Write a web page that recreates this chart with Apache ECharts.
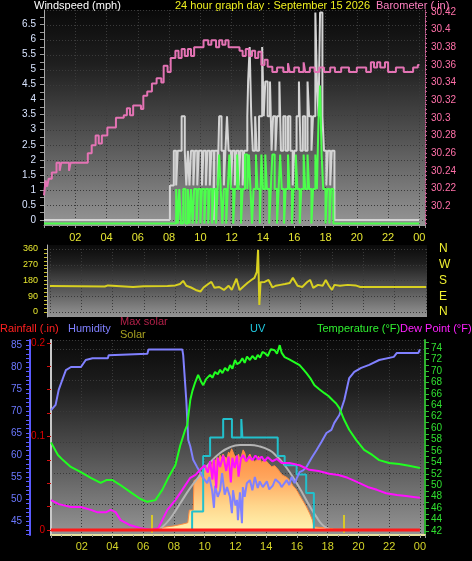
<!DOCTYPE html>
<html><head><meta charset="utf-8">
<script src="https://cdn.jsdelivr.net/npm/echarts@6/dist/echarts.min.js"></script>
<style>html,body{margin:0;padding:0;background:#000;}#c{width:472px;height:561px;}</style>
</head><body><div id="c"></div>
<script>
// ---------- DATA (hour of day, value) ----------
const windGust = [[0,0],[8.05,1.15],[8.3,2.3],[8.45,1.15],[8.55,2.3],[8.8,3.45],[9.0,2.3],[9.1,1.15],[9.2,2.3],[9.3,1.15],[9.4,2.3],[9.55,1.15],[9.65,2.3],[9.8,1.15],[9.9,2.3],[10.1,1.15],[10.2,2.3],[10.35,1.15],[10.45,2.3],[10.6,1.15],[10.7,2.3],[10.85,0],[10.9,2.3],[11.1,1.15],[11.2,3.45],[11.35,2.3],[11.5,1.15],[11.6,2.3],[11.7,3.45],[11.8,2.3],[11.95,1.15],[12.05,2.3],[12.2,1.15],[12.3,2.3],[12.45,1.15],[12.55,2.3],[12.7,1.15],[12.8,2.3],[13.0,3.45],[13.05,4.6],[13.15,5.75],[13.25,3.45],[13.35,2.3],[13.5,3.45],[13.6,2.3],[13.75,3.45],[13.95,5.75],[14.05,3.45],[14.15,4.6],[14.3,3.45],[14.45,4.6],[14.55,2.3],[14.65,3.45],[14.8,2.3],[14.9,3.45],[15.05,4.6],[15.15,2.3],[15.3,3.45],[15.45,2.3],[15.6,3.45],[15.75,2.3],[15.9,1.15],[16.0,2.3],[16.15,3.45],[16.3,4.6],[16.4,2.3],[16.55,3.45],[16.7,2.3],[16.85,4.6],[16.95,3.45],[17.1,2.3],[17.2,3.45],[17.35,6.9],[17.45,4.6],[17.55,3.45],[17.65,6.9],[17.8,3.45],[17.9,2.3],[18.05,1.15],[18.15,2.3],[18.3,1.15],[18.4,2.3],[18.57,0],[24,0]];
const windAvg = [[0,0],[8.45,1.15],[8.55,0],[8.65,1.15],[8.75,0],[8.9,1.15],[9.05,0],[9.2,1.15],[9.3,0],[9.4,1.15],[9.5,0],[9.6,1.15],[9.75,0],[9.85,1.15],[10.0,0],[10.1,1.15],[10.25,0],[10.35,1.15],[10.5,0],[10.6,1.15],[10.75,0],[10.85,1.15],[11.0,0],[11.1,1.15],[11.2,2.3],[11.3,1.15],[11.4,0],[11.5,1.15],[11.65,0],[11.75,1.15],[11.85,2.3],[11.95,1.15],[12.1,0],[12.2,1.15],[12.35,2.3],[12.45,1.15],[12.6,0],[12.7,1.15],[12.85,2.3],[13.0,1.15],[13.1,2.3],[13.2,1.15],[13.3,0],[13.4,1.15],[13.55,2.3],[13.65,1.15],[13.8,0],[13.9,2.3],[14.0,1.15],[14.15,2.3],[14.25,1.15],[14.4,0],[14.5,1.15],[14.6,2.3],[14.75,1.15],[14.9,0],[15.0,1.15],[15.1,2.3],[15.2,1.15],[15.35,0],[15.45,1.15],[15.6,2.3],[15.7,1.15],[15.85,0],[15.95,1.15],[16.1,2.3],[16.2,1.15],[16.35,0],[16.45,1.15],[16.6,2.3],[16.7,1.15],[16.85,2.3],[16.95,1.15],[17.1,0],[17.2,1.15],[17.35,2.3],[17.45,1.15],[17.55,3.45],[17.65,4.6],[17.75,2.3],[17.85,1.15],[18.0,0],[18.1,1.15],[18.25,0],[18.35,1.15],[18.5,0],[24,0]];
const barometer = [[0,30.212],[0.1,30.229],[0.2,30.222],[0.3,30.231],[0.5,30.238],[0.8,30.249],[1.0,30.24],[1.1,30.249],[1.6,30.24],[1.7,30.249],[2.8,30.26],[3.05,30.269],[3.3,30.28],[3.5,30.271],[3.7,30.28],[4.05,30.289],[4.6,30.3],[5.1,30.303],[5.3,30.311],[5.5,30.303],[5.7,30.314],[6.2,30.31],[6.35,30.325],[6.6,30.33],[6.9,30.339],[7.2,30.345],[7.5,30.34],[7.65,30.359],[7.9,30.352],[8.1,30.368],[8.4,30.376],[8.6,30.368],[8.8,30.378],[9.0,30.37],[9.2,30.378],[9.4,30.37],[9.6,30.38],[10.2,30.388],[10.5,30.383],[10.7,30.388],[11.0,30.38],[11.2,30.388],[11.4,30.383],[11.6,30.388],[11.8,30.38],[12.5,30.376],[12.7,30.37],[12.9,30.378],[13.1,30.37],[13.3,30.376],[13.5,30.368],[13.7,30.375],[13.9,30.36],[14.1,30.366],[14.3,30.358],[14.6,30.352],[14.9,30.357],[15.3,30.352],[15.6,30.362],[15.7,30.352],[16.0,30.357],[16.3,30.352],[16.6,30.363],[16.7,30.352],[17.0,30.357],[17.3,30.352],[17.6,30.357],[17.9,30.352],[18.3,30.357],[18.6,30.352],[19.0,30.357],[19.5,30.352],[20.0,30.357],[20.6,30.352],[20.9,30.363],[21.1,30.357],[21.3,30.363],[21.5,30.357],[21.8,30.363],[22.0,30.352],[22.5,30.357],[23.0,30.352],[23.6,30.357],[23.9,30.36],[24,30.36]];
const windDir = [[0,149],[3.5,146],[3.7,152],[5.3,143],[6.0,147],[7.5,149],[8.0,152],[8.3,160],[8.5,178],[8.7,150],[9.0,140],[9.3,126],[9.6,117],[9.8,140],[10.1,160],[10.3,172],[10.5,138],[10.8,143],[11.1,126],[11.4,150],[11.6,126],[11.9,190],[12.1,126],[12.4,150],[12.6,166],[12.85,183],[13.05,195],[13.2,229],[13.28,355],[13.36,40],[13.44,170],[13.7,172],[13.95,183],[14.2,140],[14.4,150],[14.7,155],[15.0,160],[15.3,166],[15.5,195],[15.8,150],[16.1,143],[16.4,170],[16.6,183],[16.8,138],[17.1,155],[17.4,150],[17.6,183],[17.8,150],[18.0,126],[18.15,155],[18.5,150],[19.0,155],[19.5,152],[19.8,143],[24,143]];
const humidity = [[0,70.2],[0.3,71.4],[0.5,74.8],[0.78,77.5],[0.97,79.3],[1.3,80],[1.95,80],[2.26,81.6],[2.7,82],[3.7,82],[3.75,82.7],[6.27,83],[6.34,84],[8.54,84],[8.6,82.7],[8.8,72.5],[8.93,63.4],[9.06,62],[9.25,58.9],[9.5,57.3],[9.7,56.1],[9.9,54.8],[10.16,53.6],[10.3,55],[10.48,52],[10.6,48],[10.67,53],[10.85,50.5],[11.0,52],[11.13,55.9],[11.3,51],[11.45,52.7],[11.64,50.5],[11.77,46.8],[11.84,52],[12.0,48.5],[12.1,49.8],[12.16,45.2],[12.29,51.5],[12.42,44.5],[12.48,52.7],[12.6,50.5],[12.74,53.6],[12.94,54.3],[13.1,52],[13.26,55],[13.45,52.5],[13.58,54],[13.78,52.7],[14.04,54],[14.2,52.2],[14.42,53],[14.6,54.5],[14.88,53.6],[15.0,52.7],[15.33,54.3],[15.5,53.2],[15.65,55],[15.85,53.6],[16.17,56.1],[16.4,56.5],[16.62,57.3],[16.95,59.3],[17.27,61.1],[17.6,63],[17.92,65],[18.24,65.7],[18.43,67.3],[18.76,69.1],[19.08,72.5],[19.4,77.5],[19.73,78.9],[20.18,79.8],[20.7,80.5],[21.35,81.6],[22.3,82.3],[22.5,83.2],[23.9,83.2],[24,84]];
const temperature = [[0,57.5],[0.45,55.3],[0.78,54.4],[1.29,53.2],[1.94,52.3],[2.59,51.3],[3.23,50.4],[3.6,50.9],[4.0,50.9],[4.53,50.0],[5.17,48.8],[5.82,47.6],[6.27,47.1],[6.79,47.4],[7.24,49.2],[7.63,51.3],[8.09,53.5],[8.41,57.0],[8.73,59.7],[8.86,60.5],[9.06,64.9],[9.2,66.5],[9.38,68.0],[9.57,69.3],[9.75,68.2],[9.9,67.5],[10.1,68.6],[10.35,69.3],[10.5,68.8],[10.67,69.8],[10.85,69.4],[11.0,70.2],[11.15,69.6],[11.32,70.5],[11.5,70.0],[11.65,71.0],[11.8,70.4],[11.97,71.9],[12.1,71.2],[12.29,71.5],[12.45,72.2],[12.6,71.4],[12.75,72.5],[12.94,71.9],[13.1,72.6],[13.3,72.0],[13.45,72.8],[13.6,72.3],[13.75,73.3],[13.91,73.1],[14.1,72.6],[14.3,73.8],[14.55,73.6],[14.7,73.0],[14.88,74.5],[15.0,73.2],[15.2,72.4],[15.5,72.0],[15.85,71.5],[16.17,71.0],[16.4,70.3],[16.62,69.6],[16.9,68.6],[17.14,67.5],[17.45,66.8],[17.79,66.1],[18.05,65.6],[18.31,64.9],[18.55,64.3],[18.76,63.5],[19.08,61.4],[19.4,59.7],[19.86,57.9],[20.37,56.2],[20.9,55.3],[21.35,54.4],[22.0,53.9],[22.64,53.7],[23.29,53.4],[24.0,53.0]];
const dewPoint = [[0,47.4],[0.5,46.7],[1.3,46.2],[1.94,46.2],[2.59,45.7],[3.0,45.3],[3.6,45.3],[3.88,45.7],[4.2,45.3],[4.53,43.9],[5.17,43],[5.82,42.5],[6.47,42.2],[6.98,42.5],[7.24,43.9],[7.57,45.7],[8.09,47.4],[8.54,49.2],[9.06,51.3],[9.4,51.8],[9.7,52.7],[10.0,53.5],[10.2,52.2],[10.35,54.2],[10.5,51],[10.6,54.5],[10.75,49.5],[10.85,54.8],[11.0,53.2],[11.2,55.2],[11.4,52.5],[11.55,55],[11.7,50.5],[11.8,54.8],[11.95,53],[12.1,55.2],[12.2,51.5],[12.35,54.6],[12.5,55.3],[12.7,54.2],[12.9,55],[13.1,54.4],[13.3,55.2],[13.5,54.5],[13.7,55],[13.9,54.2],[14.1,54.9],[14.4,54.2],[14.7,54.6],[15.0,53.9],[15.5,53.9],[16.17,53.5],[16.8,52.7],[17.4,52.5],[18.1,52],[18.7,51.8],[19.3,51.3],[19.9,50.6],[20.6,49.7],[21.2,49.2],[21.8,48.6],[22.5,48.3],[23.1,48.1],[23.7,47.9],[24,47.8]];
const solar = [[0,0],[6.9,0],[7.0,20],[7.5,30],[8.0,40],[8.5,55],[8.9,70],[9.0,190],[9.25,190],[9.3,470],[9.5,480],[9.7,540],[9.8,500],[9.9,600],[10.05,570],[10.16,615],[10.25,590],[10.35,645],[10.45,610],[10.54,665],[10.65,640],[10.8,690],[10.9,660],[11.0,710],[11.1,680],[11.19,720],[11.3,690],[11.45,680],[11.55,740],[11.64,720],[11.75,770],[11.84,740],[11.95,700],[12.1,690],[12.2,720],[12.29,665],[12.4,710],[12.5,760],[12.61,730],[12.74,640],[12.85,700],[12.94,720],[13.05,680],[13.13,690],[13.25,650],[13.39,665],[13.5,700],[13.58,680],[13.7,640],[13.78,635],[13.9,670],[14.04,650],[14.15,630],[14.23,615],[14.35,600],[14.42,585],[14.55,610],[14.68,600],[14.8,570],[14.88,550],[15.07,520],[15.2,530],[15.33,500],[15.52,475],[15.72,425],[15.98,380],[16.17,330],[16.36,285],[16.62,220],[16.82,160],[17.01,95],[17.1,30],[17.5,25],[18.0,20],[18.4,10],[18.5,0],[24,0]];
const maxSolar = [[6.92,0],[7.1,10],[7.76,110],[8.41,255],[9.06,400],[9.7,520],[10.35,640],[11.0,730],[11.64,785],[12.29,805],[12.94,805],[13.5,795],[14.23,755],[14.68,700],[15.07,640],[15.52,550],[15.98,445],[16.36,350],[16.82,230],[17.27,125],[17.66,50],[18.1,8],[18.2,0]];
const uvIndex = [[0,0],[9.18,1],[9.9,4],[10.35,5],[11.2,6],[11.77,5],[12.38,6],[12.45,5],[14.75,4],[15.2,3.5],[15.98,3],[16.6,2],[17.1,0],[24,0]];
const rainfall = [[0,0],[24,0]];
const sunEvents = [6.55, 19.04];

// tick labels
const windLabels = [0,0.5,1,1.5,2,2.5,3,3.5,4,4.5,5,5.5,6,6.5];
const baroLabels = [30.2,30.22,30.24,30.26,30.28,30.3,30.32,30.34,30.36,30.38,30.4,30.42];
const dirLabels = [0,90,180,270,360];
const compass = {0:'N',90:'E',180:'S',270:'W',360:'N'};
const rainLabels = [0,0.1,0.2];
const humLabels = [45,50,55,60,65,70,75,80,85];
const tempLabels = [42,44,46,48,50,52,54,56,58,60,62,64,66,68,70,72,74];

function range(a,b,s){const r=[];for(let v=a;v<=b+1e-9;v+=s)r.push(+v.toFixed(4));return r;}
const FONT='Liberation Sans, Arial, sans-serif';
function panelBg(){return {type:'linear',x:0,y:0,x2:0,y2:1,colorStops:[{offset:0,color:'#0a0a0a'},{offset:0.25,color:'#1f1f1f'},{offset:0.6,color:'#545454'},{offset:1,color:'#959595'}]};}
function hourFmt(v){const r=Math.round(v);if(v<=0||Math.abs(v-r)>1e-6||r%2)return '';return String(r%24).padStart(2,'0');}
const dotted={color:'#3a3a3a',type:[1,2],width:1};
function hiddenY(grid,min,max,pos){return {type:'value',gridIndex:grid,min:min,max:max,position:pos||'left',show:false,axisLine:{onZero:false}};}

const option={
  backgroundColor:'#000',
  animation:false,
  textStyle:{fontFamily:FONT},
  grid:[
    {left:44,top:10,width:381,height:215,show:true,backgroundColor:panelBg(),borderWidth:0},
    {left:44,top:10,width:381,height:210,show:false},
    {left:47,top:245,width:380,height:72,show:true,backgroundColor:panelBg(),borderWidth:0},
    {left:50,top:249,width:376,height:63,show:false},
    {left:51,top:340,width:374,height:195,show:true,backgroundColor:panelBg(),borderWidth:0}
  ],
  xAxis:[
    {type:'value',gridIndex:0,min:0,max:24.36,interval:2,
     axisLine:{onZero:false,lineStyle:{color:'#9a9a9a'}},
     axisTick:{length:3,lineStyle:{color:'#9a9a9a'}},
     minorTick:{show:true,splitNumber:4,length:2,lineStyle:{color:'#8a8a8a'}},
     axisLabel:{formatter:hourFmt,color:'#e6e632',fontSize:11,margin:7,fontFamily:FONT},
     splitLine:{show:true,lineStyle:dotted}},
    {type:'value',gridIndex:1,min:0,max:24.36,show:false,axisLine:{onZero:false}},
    {type:'value',gridIndex:2,min:-0.19,max:24.06,show:false,axisLine:{onZero:false}},
    {type:'value',gridIndex:3,min:0,max:24,interval:2,axisLine:{show:false,onZero:false},axisTick:{show:false},axisLabel:{show:false},splitLine:{show:true,lineStyle:dotted}},
    {type:'value',gridIndex:4,min:0,max:24.33,interval:2,
     axisLine:{onZero:false,lineStyle:{color:'#e8e0a0',width:2}},
     axisTick:{length:3,lineStyle:{color:'#9a9a9a'}},
     minorTick:{show:true,splitNumber:3,length:2,lineStyle:{color:'#8a8a8a'}},
     axisLabel:{formatter:hourFmt,color:'#d4d428',fontSize:11,margin:6,fontFamily:FONT},
     splitLine:{show:true,lineStyle:dotted}}
  ],
  yAxis:[
    // 0 wind speed
    {type:'value',gridIndex:0,position:'left',min:-0.166,max:6.98,
     axisLine:{show:true,onZero:false,lineStyle:{color:'#a8a8a8'}},
     axisTick:{show:true,customValues:range(0,6.75,0.25),length:4,lineStyle:{color:'#9a9a9a'}},
     axisLabel:{customValues:windLabels,formatter:v=>String(+(+v).toFixed(2)),color:'#d8e4ff',fontSize:10,margin:8,fontFamily:FONT},
     splitLine:{show:false}},
    // 1 barometer
    {type:'value',gridIndex:0,position:'right',min:30.1785,max:30.4223,
     axisLine:{show:true,onZero:false,lineStyle:{color:'#c86596',type:'dotted'}},
     axisTick:{show:true,customValues:range(30.18,30.42,0.005),length:2,lineStyle:{color:'#c06090'}},
     axisLabel:{customValues:baroLabels,formatter:v=>(+v).toFixed(2).replace(/0$/,''),color:'#ff70a8',fontSize:10,margin:6,fontFamily:FONT},
     splitLine:{show:false}},
    // 2 wind avg (hidden)
    hiddenY(0,-0.047,7.12,'left'),
    // 3 top grid lines
    {type:'value',gridIndex:1,position:'left',min:0,max:7,interval:0.5,axisLine:{show:false,onZero:false},axisTick:{show:false},axisLabel:{show:false},splitLine:{show:true,lineStyle:dotted}},
    // 4 wind direction
    {type:'value',gridIndex:2,position:'left',min:-28.57,max:382.86,
     axisLine:{show:true,onZero:false,lineStyle:{color:'#b0b0b0'}},
     axisTick:{show:true,customValues:range(0,360,22.5),length:3,lineStyle:{color:'#c8c030'}},
     axisLabel:{customValues:dirLabels,formatter:v=>String(Math.round(v)),color:'#e8e830',fontSize:9,margin:9,fontFamily:FONT},
     splitLine:{show:false}},
    // 5 compass letters
    {type:'value',gridIndex:2,position:'right',min:-28.57,max:382.86,
     axisLine:{show:false,onZero:false},axisTick:{show:false},
     axisLabel:{customValues:dirLabels,formatter:v=>compass[Math.round(v)],color:'#f0f030',fontSize:12,margin:12,fontFamily:FONT},
     splitLine:{show:false}},
    // 6 direction grid lines
    {type:'value',gridIndex:3,position:'left',min:0,max:360,interval:90,axisLine:{show:false,onZero:false},axisTick:{show:false},axisLabel:{show:false},splitLine:{show:true,lineStyle:dotted}},
    // 7 rainfall
    {type:'value',gridIndex:4,position:'left',min:-0.00535,max:0.2032,
     axisLine:{show:true,onZero:false,lineStyle:{color:'#c8c8c8',width:2}},
     axisTick:{show:true,customValues:range(0,0.2,0.025),length:4,lineStyle:{color:'#d01010'}},
     axisLabel:{customValues:rainLabels,formatter:v=>(+v)===0?'0':(+v).toFixed(1),color:'#e00000',fontSize:10,margin:6,fontFamily:FONT},
     splitLine:{show:false}},
    // 8 humidity
    {type:'value',gridIndex:4,position:'left',offset:21,min:41.82,max:86.14,
     axisLine:{show:true,onZero:false,lineStyle:{color:'#5a5aff',width:2}},
     axisTick:{show:true,customValues:range(42,86,1),length:4,lineStyle:{color:'#5a5aff'}},
     axisLabel:{customValues:humLabels,formatter:v=>String(Math.round(v)),color:'#6c78ff',fontSize:10,margin:8,fontFamily:FONT},
     splitLine:{show:false}},
    // 9 temperature / dew point
    {type:'value',gridIndex:4,position:'right',min:41.3,max:75.4,
     axisLine:{show:true,onZero:false,lineStyle:{color:'#30b030',width:2}},
     axisTick:{show:true,customValues:range(42,75,1),length:4,lineStyle:{color:'#30c030'}},
     axisLabel:{customValues:tempLabels,formatter:v=>String(Math.round(v)),color:'#30e030',fontSize:10,margin:6,fontFamily:FONT},
     splitLine:{show:false}},
    // 10 solar (hidden)
    hiddenY(4,-46.15,1800,'left'),
    // 11 uv (hidden)
    hiddenY(4,-0.27,10.27,'left'),
    // 12 bottom grid lines
    {type:'value',gridIndex:4,position:'left',min:0,max:6.29,interval:1,axisLine:{show:false,onZero:false},axisTick:{show:false},axisLabel:{show:false},splitLine:{show:true,lineStyle:dotted}}
  ],
  graphic:[
    {type:'text',left:34,top:0,style:{text:'Windspeed (mph)',fill:'#ffffff',font:'11px '+FONT}},
    {type:'text',left:175,top:0,style:{text:'24 hour graph day : September 15 2026',fill:'#f0f020',font:'11px '+FONT}},
    {type:'text',left:376,top:0,style:{text:'Barometer (.in)',fill:'#ff80c0',font:'11px '+FONT}},
    {type:'text',left:0,top:323,style:{text:'Rainfall (.in)',fill:'#ff2020',font:'11px '+FONT}},
    {type:'text',left:68,top:323,style:{text:'Humidity',fill:'#8080ff',font:'11px '+FONT}},
    {type:'text',left:120,top:316,style:{text:'Max solar',fill:'#b02048',font:'11px '+FONT}},
    {type:'text',left:120,top:329,style:{text:'Solar',fill:'#a8a020',font:'11px '+FONT}},
    {type:'text',left:250,top:323,style:{text:'UV',fill:'#20c8e0',font:'11px '+FONT}},
    {type:'text',left:317,top:323,style:{text:'Temperature (°F)',fill:'#30f030',font:'11px '+FONT}},
    {type:'text',left:400,top:323,style:{text:'Dew Point (°F)',fill:'#ff20ff',font:'11px '+FONT}}
  ],
  series:[
    {name:'Gust',type:'line',xAxisIndex:0,yAxisIndex:0,data:windGust,step:'end',showSymbol:false,lineStyle:{color:'#d4d4d4',width:2},z:2},
    {name:'Average',type:'line',xAxisIndex:0,yAxisIndex:2,data:windAvg,step:'end',showSymbol:false,clip:false,lineStyle:{color:'#4cff4c',width:2},z:3},
    {name:'Barometer',type:'line',xAxisIndex:0,yAxisIndex:1,data:barometer,step:'end',showSymbol:false,lineStyle:{color:'#e473b4',width:2},z:4},
    {name:'Direction',type:'line',xAxisIndex:2,yAxisIndex:4,data:windDir,showSymbol:false,lineStyle:{color:'#d8d020',width:2},z:3},
    {name:'Solar',type:'line',xAxisIndex:4,yAxisIndex:10,data:solar,showSymbol:false,lineStyle:{color:'#ff8c40',width:1},
     areaStyle:{opacity:1,color:{type:'linear',x:0,y:0,x2:0,y2:1,colorStops:[{offset:0,color:'#ff8a3c'},{offset:0.35,color:'#ffa55c'},{offset:0.7,color:'#ffd68c'},{offset:1,color:'#fff3b0'}]}},z:2},
    {name:'Max solar',type:'line',xAxisIndex:4,yAxisIndex:10,data:maxSolar,smooth:true,showSymbol:false,lineStyle:{color:'#b4b4b4',width:2},z:3},
    {name:'UV',type:'line',xAxisIndex:4,yAxisIndex:11,data:uvIndex,step:'end',showSymbol:false,lineStyle:{color:'#22c0cc',width:2},z:4},
    {name:'Humidity',type:'line',xAxisIndex:4,yAxisIndex:8,data:humidity,showSymbol:false,lineStyle:{color:'#8080ff',width:2},z:5},
    {name:'Temperature',type:'line',xAxisIndex:4,yAxisIndex:9,data:temperature,showSymbol:false,lineStyle:{color:'#20ff20',width:2},z:5},
    {name:'Dew Point',type:'line',xAxisIndex:4,yAxisIndex:9,data:dewPoint,showSymbol:false,lineStyle:{color:'#ff10ff',width:2},z:6},
    {name:'Rainfall',type:'line',xAxisIndex:4,yAxisIndex:7,data:rainfall,showSymbol:false,lineStyle:{color:'#ff1a1a',width:3},z:7,
     markLine:{silent:true,symbol:'none',label:{show:false},lineStyle:{color:'#d8c828',width:2,type:'solid'},
       data:sunEvents.map(h=>[{coord:[h,-0.003]},{coord:[h,0.016]}])}}
  ]
};
const chart=echarts.init(document.getElementById('c'),null,{renderer:'canvas'});
chart.setOption(option);
</script></body></html>
